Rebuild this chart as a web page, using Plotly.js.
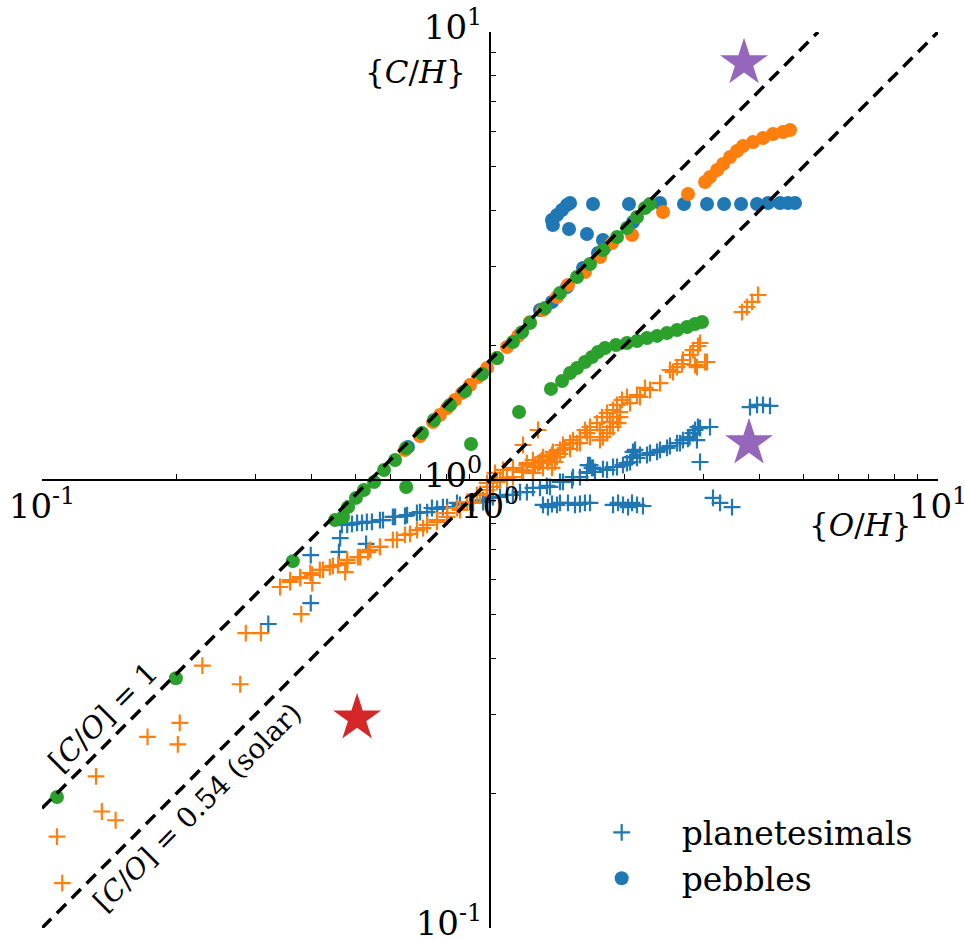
<!DOCTYPE html>
<html>
<head>
<meta charset="utf-8">
<script src="https://cdn.plot.ly/plotly-3.0.1.min.js"></script>
<style>html,body{margin:0;padding:0;background:#fff;}</style>
</head>
<body>
<div id="chart" style="width:964px;height:940px;"></div>
<script>
// ---- data: {O/H} (x) and {C/H} (y) ----
const bluePlanX = [0.320,0.398,0.398,0.460,0.463,0.529,0.480,0.505,0.531,0.568,0.607,0.653,0.698,0.742,0.785,0.844,0.902,0.965,1.015,1.091,1.167,1.247,1.340,1.433,1.532,1.646,1.698,1.672,1.787,1.882,1.981,2.054,2.085,2.162,2.276,2.396,2.522,2.655,2.767,2.839,2.943,3.098,2.943,3.805,3.945,4.068,4.217,1.313,1.375,1.433,1.493,1.588,1.672,1.882,1.981,2.075,2.195,3.146,3.262,3.469,
  0.965,1.000,1.053,1.125,1.209,1.293,1.361,1.455,1.525,1.588,1.646,1.655,1.689,1.715,1.825,1.921,2.022,2.075,2.108,2.129,2.241,2.360,2.484,2.615,2.696,2.790,2.869,2.912,2.897,
  0.467,0.492,0.518,0.545,0.577,0.614,0.646,0.687,0.724,0.762,0.802,0.857,0.917,0.985,
  1.347,1.411,1.548,1.629,1.931,2.033,2.129];
const bluePlanY = [0.477,0.531,0.680,0.691,0.742,0.720,0.794,0.802,0.806,0.814,0.827,0.835,0.848,0.866,0.870,0.889,0.893,0.902,0.916,0.926,0.940,0.960,0.970,0.990,1.015,1.042,1.064,1.080,1.058,1.069,1.080,1.097,1.155,1.137,1.149,1.167,1.191,1.209,1.235,1.273,1.306,1.313,1.097,1.455,1.471,1.471,1.463,0.880,0.884,0.889,0.889,0.884,0.889,0.880,0.880,0.889,0.875,0.912,0.889,0.870,
  0.893,0.912,0.917,0.926,0.940,0.960,0.965,0.990,1.000,1.015,1.037,1.080,1.064,1.042,1.053,1.069,1.091,1.125,1.167,1.120,1.137,1.155,1.179,1.209,1.228,1.247,1.293,1.313,1.228,
  0.794,0.798,0.802,0.806,0.814,0.827,0.831,0.844,0.848,0.862,0.870,0.880,0.889,0.898,
  0.870,0.880,0.880,0.889,0.889,0.870,0.880];

const bluePebX = [0.656,1.293,1.375,1.485,1.613,1.742,1.806,1.787,2.085,1.375,1.382,1.411,1.448,1.485,1.509,1.501,1.646,1.698,2.043,2.396,2.710,3.051,3.330,3.634,3.945,4.174,4.439,4.626,4.795];
const bluePebY = [1.185,2.396,2.497,2.696,2.973,3.212,3.313,3.434,3.766,3.805,3.709,3.904,4.006,4.110,4.153,3.634,3.541,4.131,4.131,4.153,4.131,4.131,4.131,4.131,4.131,4.153,4.153,4.153,4.153];

const orangePlanX = [0.108,0.111,0.132,0.136,0.146,0.172,0.201,0.203,0.228,0.277,0.285,0.308,0.379,0.401,0.475,0.340,0.358,0.377,0.401,0.424,0.446,0.480,0.513,0.540,0.568,0.620,0.663,0.709,0.761,0.802,0.857,0.916,0.950,1.015,0.985,1.053,1.125,1.185,1.260,1.340,1.433,1.509,1.588,1.672,1.760,1.853,1.950,2.054,2.162,2.276,2.396,2.562,2.684,2.796,2.912,2.943,3.020,2.897,1.760,1.825,1.882,1.921,1.280,1.185,1.209,1.397,3.652,3.747,3.846,3.965,
  1.026,1.069,1.125,1.185,1.209,1.247,1.293,1.313,1.361,1.382,1.433,1.455,1.509,1.532,1.588,1.629,1.672,1.733,1.778,1.825,1.882,1.921,1.971,2.022,1.950,1.931,1.853,1.787,2.129,2.218,2.522,2.615,2.696,2.839,2.869,3.051,
  1.000,1.037,1.091,1.179,1.247,1.280,1.306,1.347,1.375,1.411,1.471,1.564,1.646,1.375,1.313,1.247,
  0.358,0.377,0.397,0.417,0.439,0.458,0.480,0.507,0.534,0.568,0.607,0.646,0.687,0.724,0.762,0.802,0.844,0.889,0.935,0.985];
const orangePlanY = [0.160,0.126,0.218,0.182,0.174,0.267,0.257,0.287,0.385,0.350,0.455,0.455,0.502,0.589,0.623,0.577,0.592,0.604,0.614,0.630,0.643,0.663,0.673,0.698,0.709,0.735,0.758,0.781,0.806,0.827,0.857,0.889,0.931,0.965,0.985,1.000,1.015,1.047,1.075,1.108,1.143,1.173,1.209,1.247,1.293,1.347,1.418,1.485,1.532,1.588,1.646,1.742,1.815,1.901,1.991,2.022,1.834,1.787,1.228,1.273,1.313,1.382,1.293,1.197,1.080,1.097,2.371,2.433,2.497,2.588,
  1.037,1.053,1.064,1.053,1.091,1.108,1.097,1.125,1.125,1.155,1.167,1.197,1.209,1.228,1.247,1.293,1.313,1.340,1.382,1.411,1.433,1.471,1.509,1.532,1.382,1.340,1.313,1.247,1.548,1.605,1.760,1.787,1.853,1.950,1.806,1.834,
  0.965,0.990,1.010,1.042,1.069,1.091,1.108,1.097,1.137,1.125,1.179,1.209,1.273,1.064,1.064,1.037,
  0.598,0.607,0.620,0.630,0.639,0.646,0.653,0.673,0.690,0.709,0.735,0.754,0.773,0.794,0.814,0.844,0.866,0.893,0.926,0.950];

const orangePebX = [0.646,0.698,0.746,0.773,0.802,0.835,0.866,0.902,0.940,0.985,1.037,1.091,1.155,1.228,1.313,1.411,1.493,1.629,1.760,1.872,2.075,2.433,2.767,3.020,3.098,3.212,3.313,3.434,3.558,3.670,3.864,4.068,4.282,4.508,4.674];
const orangePebY = [1.167,1.254,1.347,1.397,1.448,1.509,1.564,1.629,1.698,1.778,1.872,1.981,2.097,2.253,2.396,2.562,2.724,2.912,3.146,3.381,3.524,3.965,4.348,4.626,4.746,4.920,5.075,5.260,5.425,5.566,5.682,5.800,5.920,5.982,6.042];

const greenPebX = [0.108,0.199,0.363,0.451,0.470,0.482,0.502,0.523,0.551,0.580,0.614,0.650,0.705,0.750,0.814,0.880,0.960,1.037,1.125,1.179,1.228,1.327,1.433,1.564,1.672,1.787,1.921,2.022,2.129,2.218,2.275,0.650,0.907,1.161,1.368,1.448,1.509,1.564,1.629,1.689,1.742,1.806,1.911,2.022,2.129,2.241,2.360,2.484,2.615,2.753,2.869,2.973];
const greenPebY = [0.196,0.361,0.659,0.814,0.827,0.870,0.912,0.950,0.990,1.053,1.108,1.179,1.273,1.361,1.471,1.580,1.724,1.872,2.032,2.138,2.241,2.420,2.615,2.839,3.035,3.262,3.486,3.652,3.864,4.047,4.130,0.965,1.203,1.418,1.597,1.663,1.733,1.778,1.834,1.882,1.931,1.971,2.001,2.022,2.043,2.075,2.097,2.129,2.162,2.195,2.230,2.253];

const redStarX = [0.505], redStarY = [0.294];
const purpleStarX = [3.690, 3.786], purpleStarY = [8.53, 1.209];

// reference ratio lines
const coOneX = [0.1, 5.4],  coOneY = [0.185, 10];
const coSolarX = [0.1, 10], coSolarY = [0.1, 10];

const majorTicks = [0.1, 1, 10];
const majorTickText = ['10<sup>-1</sup>', '10<sup>0</sup>', '10<sup>1</sup>'];
const minorTicks = [0.2,0.3,0.4,0.5,0.6,0.7,0.8,0.9,2,3,4,5,6,7,8,9];

const legendNames = ['planetesimals', 'pebbles'];
const xLabel = '{<i>O</i>/<i>H</i>}';
const yLabel = '{<i>C</i>/<i>H</i>}';
const lineLabels = ['[<i>C</i>/<i>O</i>] = 1', '[<i>C</i>/<i>O</i>] = 0.54 (solar)'];

// ---- styling ----
const BLUE = '#1f77b4', ORANGE = '#ff7f0e', GREEN = '#2ca02c', RED = '#d62728', PURPLE = '#9467bd';
const FONT = 'DejaVu Serif';

function plus(x, y, color, name, show) {
  return {x, y, type: 'scatter', mode: 'markers', name, showlegend: show,
    marker: {symbol: 'cross-thin', size: 12, color, line: {color, width: 2.2}}};
}
function dots(x, y, color, name, show) {
  return {x, y, type: 'scatter', mode: 'markers', name, showlegend: show,
    marker: {symbol: 'circle', size: 14, color, line: {width: 0}}};
}
function dashLine(x, y) {
  return {x, y, type: 'scatter', mode: 'lines', showlegend: false,
    line: {color: '#000', width: 3.5, dash: '13px,8px'}};
}
function star(x, y, color) {
  return {x, y, type: 'scatter', mode: 'markers', showlegend: false,
    marker: {symbol: 'star', size: 36, color, line: {width: 0}}};
}

const traces = [
  plus(bluePlanX, bluePlanY, BLUE, legendNames[0], true),
  plus(orangePlanX, orangePlanY, ORANGE, 'o', false),
  dots(bluePebX, bluePebY, BLUE, legendNames[1], true),
  dots(orangePebX, orangePebY, ORANGE, 'o2', false),
  dots(greenPebX, greenPebY, GREEN, 'g', false),
  dashLine(coOneX, coOneY),
  dashLine(coSolarX, coSolarY),
  star(redStarX, redStarY, RED),
  star(purpleStarX, purpleStarY, PURPLE)
];

function axis(extra) {
  return Object.assign({
    type: 'log', range: [-1, 1], anchor: 'free', position: 0.5,
    showline: true, linecolor: '#000', linewidth: 2,
    ticks: 'inside', ticklen: 8, tickwidth: 1.5, tickcolor: '#000',
    tickmode: 'array', tickvals: majorTicks, ticktext: majorTickText,
    tickfont: {family: FONT, size: 34, color: '#000'},
    ticklabeloverflow: 'allow',
    minor: {tickmode: 'array', tickvals: minorTicks, ticks: 'inside', ticklen: 5, tickwidth: 1.2, tickcolor: '#000', showgrid: false},
    showgrid: false, zeroline: false, fixedrange: true
  }, extra);
}

const layout = {
  width: 964, height: 940,
  margin: {l: 42, r: 26, t: 32, b: 12, pad: 0},
  paper_bgcolor: '#fff', plot_bgcolor: '#fff',
  xaxis: axis({ticklabelstandoff: -4}),
  yaxis: axis({ticklabelshift: -5}),
  showlegend: true,
  legend: {x: 0.580, y: 0.138, xanchor: 'left', yanchor: 'top', bgcolor: 'rgba(0,0,0,0)',
    font: {family: FONT, size: 33, color: '#000'}, itemwidth: 110, tracegroupgap: 0},
  annotations: [
    {xref: 'paper', yref: 'paper', x: 0.417, y: 0.955, xanchor: 'center', yanchor: 'middle', text: yLabel, showarrow: false,
     font: {family: FONT, size: 31, color: '#000'}},
    {xref: 'paper', yref: 'paper', x: 0.913, y: 0.450, xanchor: 'center', yanchor: 'middle', text: xLabel, showarrow: false,
     font: {family: FONT, size: 31, color: '#000'}},
    {xref: 'paper', yref: 'paper', x: 0.068, y: 0.236, xanchor: 'center', yanchor: 'middle', text: lineLabels[0], showarrow: false,
     textangle: -45, font: {family: FONT, size: 29, color: '#000'}},
    {xref: 'paper', yref: 'paper', x: 0.173, y: 0.135, xanchor: 'center', yanchor: 'middle', text: lineLabels[1], showarrow: false,
     textangle: -45, font: {family: FONT, size: 28, color: '#000'}}
  ]
};

Plotly.newPlot('chart', traces, layout, {staticPlot: true, displayModeBar: false});
</script>
</body>
</html>
